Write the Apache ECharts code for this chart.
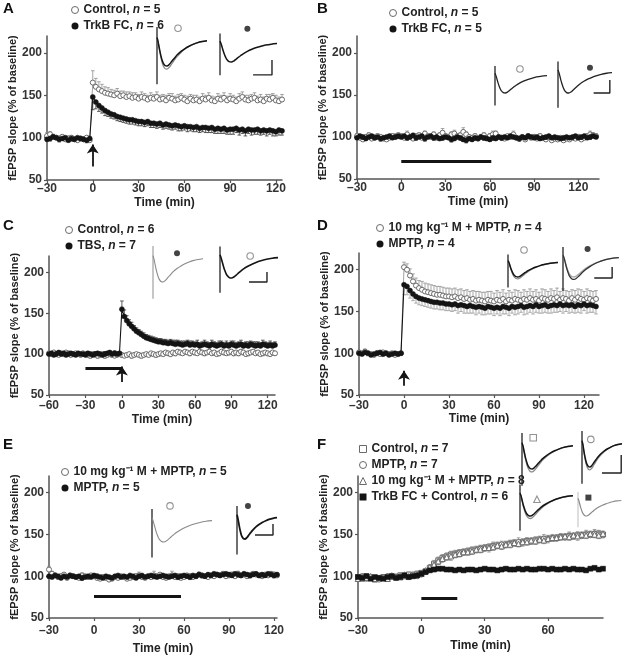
<!DOCTYPE html>
<html><head><meta charset="utf-8">
<script src="https://cdn.jsdelivr.net/npm/echarts@6/dist/echarts.min.js"></script>
<style>html,body{margin:0;padding:0;background:#fff}#c{width:630px;height:659px}</style>
</head><body><div id="c"></div>
<script>
// ---------- tick labels ----------
const yTicks = [50, 100, 150, 200];
const xTicks30 = [-30, 0, 30, 60, 90, 120];
const xTicksC = [-60, -30, 0, 30, 60, 90, 120];
const xTicksF = [-30, 0, 30, 60];
const sampleStep = 2; // minutes between plotted points
const startA = -30, startB = -30, startC = -60, startD = -30, startE = -30, startF = -30;

// ---------- Panel A ----------
const ctrlA = [102,104,101,100,99,101,98,99,100,98,97,99,98,100,97,
 165,
 160,157,155,153,152,151,150,152,149,150,
 148,149,147,148,146,148,147,145,147,146,
 148,145,146,144,147,146,144,145,147,145,
 143,146,144,145,143,146,145,147,144,143,
 146,145,147,144,146,145,143,146,148,145,
 144,146,147,144,145,143,146,145,147,144,
 143,145];
const errCtrlA = [4,3,3,2,3,2,2,3,2,3,2,2,3,2,2,
 14,
 10,9,8,7,7,6,6,6,6,5,
 6,5,6,5,5,6,5,5,6,5,
 6,5,5,6,5,6,5,6,5,5,
 6,5,6,5,5,6,5,6,5,5,
 6,5,6,5,6,5,5,6,6,5,
 6,5,6,5,6,5,5,6,5,6,
 5,6];
const trkA = [98,99,101,100,98,99,100,97,99,98,100,99,98,97,99,
 148,
 142,138,135,132,130,128,127,125,124,123,
 122,121,121,120,119,119,118,119,117,117,
 116,117,115,116,115,114,115,114,113,114,
 113,113,112,113,111,112,112,111,112,110,
 111,110,111,109,110,110,111,109,110,108,
 110,109,109,110,108,109,108,109,108,107,
 109,108];
const errTrkA = [2,3,2,2,3,2,2,2,3,2,2,2,2,3,2,
 15,
 8,7,6,6,5,5,5,5,5,5,
 5,5,5,5,5,5,5,5,5,5,
 5,5,5,5,5,5,5,6,5,5,
 6,5,5,6,5,5,6,5,6,5,
 6,5,6,5,6,6,5,6,5,6,
 5,6,5,6,5,5,6,5,6,5,
 6,5];
const stimA = [[0, 66], [0, 92]];

// ---------- Panel B ----------
const ctrlB = [101,99,97,100,102,98,99,101,100,98,
 97,99,101,100,102, 101,99,103,100,98, 101,102,99,104,101, 100,103,99,102,105,
 101,100,103,104,101, 102,106,103,100,99, 101,98,100,102,99, 101,103,104,100,99,
 98,101,100,103,99, 98,100,97,101,99, 100,98,101,99,97, 100,96,98,97,99,
 96,98,97,99,98, 100,97,99,101,103, 102,101];
const errCtrlB = [3,4,3,2,3,3,4,3,2,3,
 3,2,3,4,3, 3,2,4,3,3, 2,3,4,3,3, 2,3,4,3,5, 3,2,3,4,3, 3,5,3,2,3,
 3,2,3,3,2, 3,4,3,2,3, 3,2,3,4,2, 3,2,3,3,2, 3,2,3,2,3, 2,3,2,3,2,
 3,2,3,2,3, 3,2,3,3,4, 3,3];
const trkB = [99,101,100,98,100,101,99,100,98,99,
 100,101,99,100,101, 100,101,99,100,102, 99,100,101,98,100, 101,99,100,98,99,
 100,99,97,98,100, 99,97,96,98,97, 99,98,100,99,98, 97,99,98,100,99,
 100,99,101,100,99, 98,100,99,101,100, 99,100,98,99,100, 101,99,100,99,98,
 99,100,99,100,101, 99,100,101,99,100, 101,100];
const errTrkB = [2,2,3,2,2,3,2,2,3,2,
 2,3,2,2,3, 2,2,3,2,2, 3,2,2,3,2, 2,3,2,2,3, 2,2,3,2,2, 3,2,3,2,2,
 3,2,2,3,2, 2,3,2,2,3, 2,2,3,2,2, 3,2,2,3,2, 2,3,2,2,3, 2,2,3,2,2,
 3,2,2,3,2, 2,3,2,2,3, 2,2];
const barB = [[0, 71], [61, 71]];

// ---------- Panel C ----------
const ctrlC = [101,100,102,100,99,101,100,102,101,99,
 100,101,100,99,101, 100,99,98,100,99, 98,99,100,98,99, 100,99,98,99,100,
 99,98,99,100,98,99,100,99,98,99,
 100,99,101,100,99, 100,101,100,102,101, 100,102,101,103,102, 101,103,102,101,103,
 102,101,103,102,101, 102,103,101,102,100, 101,103,102,101,102, 103,101,102,101,103,
 102,100,101,102,103, 101,102,100,101,102, 101,100,102,101];
const errCtrlC = [2,2,3,2,2,3,2,2,3,2,
 2,3,2,2,3, 2,2,3,2,2, 3,2,2,3,2, 2,3,2,2,3,
 3,2,3,2,3,2,3,2,3,2,
 3,2,3,2,3, 2,3,2,3,2, 3,2,3,2,3, 2,3,2,3,2, 3,2,3,2,3, 2,3,2,3,2,
 3,2,3,2,3, 2,3,2,3,2, 3,2,3,2,3, 2,3,2,3,2, 3,2,3,2];
const tbsC = [100,101,99,100,102,100,101,99,100,101,
 100,99,101,100,100, 99,101,100,99,100, 101,100,99,100,101, 102,100,101,100,101,
 155,146,141,137,134,131,128,126,124,122,
 120,119,118,117,116,115,115,114,114,113,
 114,113,112,113,112,111,112,113,111,112,
 111,112,110,111,112,111,110,112,111,110,
 111,112,110,111,110,112,111,110,111,112,
 110,111,110,112,111,110,111,110,112,111,
 110,111,110,111];
const errTbsC = [2,2,2,3,2,2,2,3,2,2,
 2,3,2,2,2, 3,2,2,2,3, 2,2,2,3,2, 2,2,3,2,2,
 10,8,6,5,5,4,4,4,4,4,
 4,4,4,4,4, 4,4,4,4,4, 4,4,5,4,4, 5,4,4,5,4, 4,5,4,4,5, 4,4,5,4,4,
 5,4,4,5,4, 4,5,4,4,5, 4,4,5,4,4, 5,4,4,5,4, 4,5,4,4];
const barC = [[-30, 83], [0, 83]];
const stimC = [[0, 66], [0, 85]];

// ---------- Panel D ----------
const ctrlD = [101,100,102,100,99,98,100,99,101,100,99,100,98,99,100,
 203,200,193,186,181,178,176,174,173,172,
 171,170,170,169,168,168,167,168,166,167,
 165,166,164,165,163,164,163,162,164,163,
 162,164,163,165,162,164,163,165,164,163,
 165,164,166,164,165,163,166,165,164,166,
 165,167,164,166,165,163,166,164,167,165,
 164,166,165,163,165];
const errCtrlD = [2,2,3,2,2,2,3,2,2,2,3,2,2,2,2,
 6,7,8,9,9,9,10,10,10,10,
 10,10,10,10,10, 10,10,10,10,10, 10,10,10,10,11, 10,10,11,10,11,
 10,11,10,11,10, 11,10,11,11,10, 11,10,11,10,11, 10,11,11,10,11,
 10,11,10,11,10, 11,10,11,10,11, 10,11,10,11,10];
const mptpD = [100,99,101,100,98,99,100,101,99,100,98,99,100,99,100,
 182,180,175,171,168,166,165,164,163,162,
 161,161,160,160,159,159,158,159,157,158,
 157,156,157,156,155,156,155,154,156,155,
 154,155,154,156,155,154,156,155,156,157,
 155,156,157,156,158,156,157,158,156,157,
 158,157,159,157,158,157,158,156,158,157,
 159,157,158,157,156];
const errMptpD = [2,2,2,3,2,2,2,2,3,2,2,2,2,3,2,
 12,10,9,8,8,8,8,8,8,8,
 8,8,8,8,8, 8,8,8,9,8, 9,8,9,8,9, 8,9,8,9,8,
 9,8,9,9,8, 9,8,9,9,8, 9,9,8,9,9, 8,9,9,8,9,
 9,8,9,9,8, 9,9,8,9,9, 8,9,9,8,9];
const stimD = [[0, 61], [0, 79]];

// ---------- Panel E ----------
const ctrlE = [108,103,101,99,100,102,98,101,100,99,
 98,101,100,99,101, 100,98,97,99,98, 96,97,99,98,100, 99,97,98,99,100,
 101,99,98,100,99, 101,100,102,99,98, 100,101,99,100,98, 99,101,100,99,100,
 102,101,100,99,101, 100,102,101,103,100, 101,102,100,103,101, 102,100,101,103,102,
 101,100,102,101,103, 102,101];
const errCtrlE = [4,3,3,2,3,2,3,2,3,3,
 2,3,2,3,2, 3,5,4,3,3, 5,4,3,3,2, 3,4,3,2,3, 4,3,3,2,3, 5,3,2,3,3,
 2,5,3,3,5, 3,2,3,3,2, 3,2,3,3,2, 3,2,3,2,3, 2,3,2,3,2, 3,2,3,2,3,
 2,3,2,3,2, 3,2];
const mptpE = [100,99,101,100,98,100,99,101,100,99,
 100,98,99,100,99, 101,100,99,98,100, 99,98,100,101,99, 100,99,101,100,98,
 100,101,99,100,101, 100,99,100,101,100, 99,100,101,99,100, 101,100,99,101,100,
 102,101,100,102,101, 103,102,101,102,103, 102,101,103,102,101, 103,102,101,102,103,
 101,102,101,103,102, 101,102];
const errMptpE = [2,2,2,3,2,2,2,3,2,2,
 2,3,2,2,2, 3,2,2,2,3, 2,2,2,3,2, 2,2,3,2,2, 2,3,2,2,2, 3,2,2,2,3,
 2,2,2,3,2, 2,2,3,2,2, 2,3,2,2,2, 3,2,2,2,3, 2,2,2,3,2, 2,2,3,2,2,
 2,3,2,2,2, 3,2];
const barE = [[0, 76], [58, 76]];

// ---------- Panel F ----------
const ctrlF = [99,97,100,98,96,97,99,98,100,99,101,100,102,101,103,
 104,106,110,115,119,122,124,126,127,128,
 129,130,131,132,133,134,135,136,137,137,
 138,139,140,140,141,142,142,143,144,144,
 145,145,146,147,147,148,148,149,149,150,
 150,150,151,150];
const errCtrlF = [3,2,3,2,3,2,3,2,3,2,3,2,3,2,3,
 3,3,4,4,4,4,4,4,4,4, 4,4,4,4,4, 4,4,4,4,4, 4,4,4,4,4, 4,4,4,4,4,
 4,4,4,4,4, 4,4,4,4,5, 4,5,4,4];
const mptpF = [98,100,97,99,98,96,98,100,99,98,100,101,99,102,100,
 102,105,108,112,117,120,123,125,126,128,
 128,129,131,131,133,133,134,136,136,138,
 137,139,139,141,140,142,141,143,143,145,
 144,146,145,147,146,148,147,149,148,150,
 149,151,150,149];
const errMptpF = [2,3,2,3,2,3,2,3,2,3,2,3,2,3,2,
 3,3,3,4,4,4,4,4,4,4, 4,4,4,4,4, 4,4,5,4,4, 4,4,4,5,4, 4,4,4,4,5,
 4,4,4,4,4, 5,4,4,4,4, 4,5,4,4];
const mmF = [97,99,98,100,97,98,99,97,101,100,99,102,100,101,102,
 103,107,111,114,118,121,123,124,126,127,
 129,129,130,132,132,134,134,135,137,136,
 138,138,140,139,141,141,143,142,144,143,
 145,146,146,147,148,147,149,148,150,149,
 151,150,149,151];
const errMmF = [3,3,2,3,3,2,3,3,2,3,3,2,3,3,2,
 3,4,4,4,4,4,4,5,4,4, 4,4,4,4,4, 4,5,4,4,4, 4,4,4,4,5, 4,4,4,4,4,
 5,4,4,4,4, 4,4,5,4,4, 4,4,4,5];
const trkF = [99,98,100,97,99,98,97,99,100,98,99,101,99,100,101,
 103,105,107,108,109,109,108,108,107,108,
 107,108,108,107,108,109,108,108,107,108,
 109,108,108,109,108,109,108,108,109,109,
 108,109,108,108,109,108,109,108,108,107,
 109,110,108,109];
const errTrkF = [2,2,2,2,2,2,2,2,2,2,2,2,2,2,2,
 2,2,2,2,2,2,2,2,2,2, 2,2,2,2,2, 2,2,2,2,2, 2,2,2,2,2, 2,2,2,2,2,
 2,2,2,2,2, 2,2,2,2,2, 2,2,2,2];
const barF = [[0, 74], [17, 74]];

// ---------- inset fEPSP traces (normalised) ----------
const waveT    = [0, 1, 2, 3, 4, 5, 6, 8, 10, 12, 14, 16, 18, 20, 24, 28, 32, 36, 40, 45, 50];
const waveMain = [0.1, -0.05, -0.25, -0.45, -0.62, -0.76, -0.87, -0.98, -1.0, -0.95, -0.86, -0.76, -0.67, -0.58, -0.44, -0.33, -0.24, -0.17, -0.11, -0.06, -0.03];
const waveDeep = [0.1, -0.06, -0.28, -0.5, -0.69, -0.85, -0.97, -1.1, -1.12, -1.06, -0.96, -0.85, -0.74, -0.64, -0.48, -0.35, -0.25, -0.17, -0.11, -0.06, -0.03];
const artifact = [[0, 0.5], [0, -1.7]];
const scaleA = [[29, -1.68], [45.6, -1.68], [45.6, -0.89]];
const scaleB = [[33, -1.0], [48, -1.0], [48, -0.38]];
const scaleC = [[25, -1.19], [40.5, -1.19], [40.5, -0.71]];
const scaleD = [[28, -1.05], [44, -1.05], [44, -0.5]];
const scaleE = [[22.5, -0.82], [45, -0.82], [45, -0.32]];
const scaleF = [[25, -1.25], [49, -1.25], [49, -0.5]];

// ---------- build ----------
const FONT = '"Liberation Sans", Arial, Helvetica, sans-serif';
const GREY = '#8a8a8a', LGREY = '#a8a8a8', BLACK = '#141414', AXIS = '#555';
const OPEN_EDGE = '#6a6a6a';
const WAVES = {main: waveMain, deep: waveDeep};

const panels = [
 {letter: 'A', lpos: [3, 1], grid: {left: 47, top: 36, width: 235, height: 144}, xMin: -30, xMax: 124, xTicks: xTicks30,
  xLabelMargin: 3, xNameGap: 17, legend: {left: 71, top: 3},
  series: [
   {name: 'A1', label: 'Control, {i|n} = 5', vals: ctrlA, errs: errCtrlA, start: startA, sym: 'circle', open: true, dir: 1},
   {name: 'A2', label: 'TrkB FC, {i|n} = 6', vals: trkA, errs: errTrkA, start: startA, sym: 'circle', open: false, dir: -1}],
  marks: [{pts: stimA, arrow: true}],
  insets: [
   {x: 157, base: 40, d: 26, L: 50, traces: [['deep', GREY, 1.3], ['main', BLACK, 1.5]], mk: {sym: 'circle', open: true, at: [21, 0.45]}},
   {x: 220, base: 43, d: 19, L: 57, traces: [['main', BLACK, 1.5]], mk: {sym: 'circle', open: false, at: [24, 0.75]}, bar: scaleA}]},
 {letter: 'B', lpos: [317, 1], grid: {left: 357, top: 36, width: 242, height: 143}, xMin: -30, xMax: 134, xTicks: xTicks30,
  xLabelMargin: 3, xNameGap: 17, legend: {left: 389, top: 6},
  series: [
   {name: 'B1', label: 'Control, {i|n} = 5', vals: ctrlB, errs: errCtrlB, start: startB, sym: 'circle', open: true, dir: 1},
   {name: 'B2', label: 'TrkB FC, {i|n} = 5', vals: trkB, errs: errTrkB, start: startB, sym: 'circle', open: false, dir: -1}],
  marks: [{pts: barB}],
  insets: [
   {x: 495, base: 75, d: 18, L: 52, traces: [['main', '#222', 1.3]], mk: {sym: 'circle', open: true, at: [24, 0.33]}},
   {x: 558, base: 72, d: 21, L: 54, traces: [['main', '#222', 1.3]], mk: {sym: 'circle', open: false, at: [29.6, 0.2]}, bar: scaleB}]},
 {letter: 'C', lpos: [3, 218], grid: {left: 49, top: 256, width: 226, height: 139}, xMin: -60, xMax: 126, xTicks: xTicksC,
  xLabelMargin: 5, xNameGap: 19, legend: {left: 65, top: 223},
  series: [
   {name: 'C1', label: 'Control, {i|n} = 6', vals: ctrlC, errs: errCtrlC, start: startC, sym: 'circle', open: true, dir: -1},
   {name: 'C2', label: 'TBS, {i|n} = 7', vals: tbsC, errs: errTbsC, start: startC, sym: 'circle', open: false, dir: 1}],
  marks: [{pts: barC}, {pts: stimC, arrow: true}],
  insets: [
   {x: 153, base: 258, d: 24, L: 50, art: LGREY, traces: [['main', GREY, 1.1]], mk: {sym: 'circle', open: false, at: [24, 0.2]}},
   {x: 220, base: 257, d: 21, L: 58, traces: [['main', BLACK, 1.6]], mk: {sym: 'circle', open: true, at: [26, 0.05]}, bar: scaleC}]},
 {letter: 'D', lpos: [317, 218], grid: {left: 359, top: 253, width: 240, height: 142}, xMin: -30, xMax: 130, xTicks: xTicks30,
  xLabelMargin: 5, xNameGap: 17, legend: {left: 376, top: 221},
  series: [
   {name: 'D1', label: '10 mg kg⁻¹ M + MPTP, {i|n} = 4', vals: ctrlD, errs: errCtrlD, start: startD, sym: 'circle', open: true, dir: 1},
   {name: 'D2', label: 'MPTP, {i|n} = 4', vals: mptpD, errs: errMptpD, start: startD, sym: 'circle', open: false, dir: -1, errCol: '#999'}],
  marks: [{pts: stimD, arrow: true}],
  insets: [
   {x: 508, base: 262, d: 15, L: 50, traces: [['deep', GREY, 1.3], ['main', BLACK, 1.5]], mk: {sym: 'circle', open: true, at: [16, 0.8]}},
   {x: 563, base: 257, d: 20, L: 57, traces: [['main', LGREY, 1.3], ['deep', '#333', 1.3]], mk: {sym: 'circle', open: false, at: [22, 0.4]}, bar: scaleD}]},
 {letter: 'E', lpos: [3, 437], grid: {left: 49, top: 476, width: 228, height: 142}, xMin: -30, xMax: 122, xTicks: xTicks30,
  xLabelMargin: 7, xNameGap: 25, legend: {left: 61, top: 465},
  series: [
   {name: 'E1', label: '10 mg kg⁻¹ M + MPTP, {i|n} = 5', vals: ctrlE, errs: errCtrlE, start: startE, sym: 'circle', open: true, dir: 1},
   {name: 'E2', label: 'MPTP, {i|n} = 5', vals: mptpE, errs: errMptpE, start: startE, sym: 'circle', open: false, dir: -1}],
  marks: [{pts: barE}],
  insets: [
   {x: 152, base: 520, d: 22, L: 60, traces: [['main', GREY, 1.1]], mk: {sym: 'circle', open: true, at: [15, 0.64]}},
   {x: 237, base: 517, d: 22, L: 40, traces: [['main', BLACK, 1.8]], mk: {sym: 'circle', open: false, at: [13.7, 0.5]}, bar: scaleE}]},
 {letter: 'F', lpos: [317, 437], grid: {left: 358, top: 476, width: 245, height: 142}, xMin: -30, xMax: 86, xTicks: xTicksF,
  xLabelMargin: 7, xNameGap: 22, legend: {left: 359, top: 442},
  series: [
   {name: 'F1', label: 'Control, {i|n} = 7', vals: ctrlF, errs: errCtrlF, start: startF, sym: 'rect', open: true, dir: 1},
   {name: 'F2', label: 'MPTP, {i|n} = 7', vals: mptpF, errs: errMptpF, start: startF, sym: 'circle', open: true, dir: 1},
   {name: 'F3', label: '10 mg kg⁻¹ M + MPTP, {i|n} = 8', vals: mmF, errs: errMmF, start: startF, sym: 'triangle', open: true, dir: -1},
   {name: 'F4', label: 'TrkB FC + Control, {i|n} = 6', vals: trkF, errs: errTrkF, start: startF, sym: 'rect', open: false, dir: 1}],
  marks: [{pts: barF}],
  insets: [
   {x: 522, base: 445, d: 24, L: 51, traces: [['deep', GREY, 1.3], ['main', BLACK, 1.5]], mk: {sym: 'rect', open: true, at: [11, 0.3]}},
   {x: 582, base: 443, d: 24, L: 46, traces: [['deep', GREY, 1.3], ['main', BLACK, 1.5]], mk: {sym: 'circle', open: true, at: [11, 0.15]}, bar: scaleF},
   {x: 520, base: 495, d: 21, L: 53, traces: [['deep', GREY, 1.3], ['main', BLACK, 1.5]], mk: {sym: 'triangle', open: true, at: [16, -0.2]}},
   {x: 578, base: 500, d: 16, L: 50, art: '#ccc', traces: [['main', GREY, 1.2]], mk: {sym: 'rect', open: false, at: [12, 0.15]}}]}
];

const grids = [], xAxes = [], yAxes = [], series = [], legends = [], titles = [];
const dash = v => (v < 0 ? '\u2013' + Math.abs(v) : String(v));
const txt = {fontFamily: FONT, fontWeight: 'bold', color: '#222'};

panels.forEach(p => {
  const gi = grids.length;
  grids.push(Object.assign({containLabel: false}, p.grid));
  titles.push({text: p.letter, left: p.lpos[0], top: p.lpos[1], padding: 0,
    textStyle: {fontFamily: FONT, fontWeight: 'bold', fontSize: 15, color: '#111'}});
  xAxes.push({type: 'value', gridIndex: gi, min: p.xMin, max: p.xMax,
    name: 'Time (min)', nameLocation: 'middle', nameGap: p.xNameGap,
    nameTextStyle: Object.assign({fontSize: 12}, txt),
    axisLine: {onZero: false, lineStyle: {color: AXIS, width: 1.5}},
    axisTick: {customValues: p.xTicks, length: 3, inside: false, lineStyle: {color: AXIS, width: 1.2}},
    axisLabel: {customValues: p.xTicks, formatter: dash, margin: p.xLabelMargin, fontSize: 12, fontFamily: FONT, fontWeight: 'bold', color: '#333'},
    splitLine: {show: false}});
  yAxes.push({type: 'value', gridIndex: gi, min: 50, max: 220,
    name: 'fEPSP slope (% of baseline)', nameLocation: 'middle', nameGap: 29,
    nameTextStyle: Object.assign({fontSize: 11}, txt),
    axisLine: {onZero: false, lineStyle: {color: AXIS, width: 1.5}},
    axisTick: {customValues: yTicks, length: 3, lineStyle: {color: AXIS, width: 1.2}},
    axisLabel: {customValues: yTicks, margin: 5, fontSize: 12, fontFamily: FONT, fontWeight: 'bold', color: '#333'},
    splitLine: {show: false}});

  const labels = {};
  p.series.forEach((s, k) => {
    labels[s.name] = s.label;
    const pts = s.vals.map((v, i) => [s.start + i * sampleStep, v]);
    const ebs = s.vals.map((v, i) => [s.start + i * sampleStep, v, s.errs[i], s.dir]);
    const ecol = s.errCol || (s.open ? '#8f8f8f' : '#333');
    series.push({type: 'custom', xAxisIndex: gi, yAxisIndex: gi, silent: true, z: 2 + k * 2,
      data: ebs, encode: {x: 0, y: 1},
      renderItem: (params, api) => {
        const x = api.value(0), y = api.value(1), e = api.value(2), d = api.value(3);
        const a = api.coord([x, y]), b = api.coord([x, y + d * e]);
        const st = {stroke: ecol, lineWidth: 0.8};
        return {type: 'group', children: [
          {type: 'line', shape: {x1: a[0], y1: a[1], x2: b[0], y2: b[1]}, style: st},
          {type: 'line', shape: {x1: b[0] - 1.8, y1: b[1], x2: b[0] + 1.8, y2: b[1]}, style: st}]};
      }});
    const ser = {type: 'line', name: s.name, xAxisIndex: gi, yAxisIndex: gi, z: 3 + k * 2,
      data: pts, symbol: s.sym, symbolSize: s.sym === 'triangle' ? 5.5 : 5, showSymbol: true, showAllSymbol: true,
      lineStyle: {color: s.open ? '#8a8a8a' : BLACK, width: s.open ? 0.8 : 1.1},
      itemStyle: s.open ? {color: '#fff', borderColor: OPEN_EDGE, borderWidth: 1} : {color: BLACK, borderColor: BLACK, borderWidth: 0.5},
      emphasis: {disabled: true}, silent: true};
    if (k === 0) {
      ser.markLine = {silent: true, animation: false, label: {show: false}, emphasis: {disabled: true},
        data: p.marks.map(m => [
          {coord: m.pts[0], symbol: 'none', lineStyle: {color: BLACK, width: m.arrow ? 1.8 : 3.2, type: 'solid'}},
          {coord: m.pts[1], symbol: m.arrow ? 'arrow' : 'none', symbolSize: m.arrow ? 9 : 0}])};
    }
    series.push(ser);
  });
  legends.push({left: p.legend.left, top: p.legend.top, orient: 'vertical', itemGap: 2, itemWidth: 7, itemHeight: 7,
    selectedMode: false, padding: 0,
    data: p.series.map(s => ({name: s.name, icon: s.sym,
      itemStyle: s.open ? {color: '#fff', borderColor: OPEN_EDGE, borderWidth: 1} : {color: BLACK, borderWidth: 0}})),
    formatter: n => labels[n],
    textStyle: {fontFamily: FONT, fontWeight: 'bold', fontSize: 12, color: '#222', lineHeight: 14,
      rich: {i: {fontFamily: FONT, fontWeight: 'bold', fontStyle: 'italic', fontSize: 12, color: '#222'}}}});

  // insets with representative fEPSP traces
  p.insets.forEach(ins => {
    const ii = grids.length;
    grids.push({left: ins.x, top: ins.base - ins.d, width: 1.2 * ins.L, height: 3 * ins.d});
    xAxes.push({type: 'value', gridIndex: ii, min: 0, max: 60, show: false});
    yAxes.push({type: 'value', gridIndex: ii, min: -2, max: 1, show: false});
    const base = {type: 'line', xAxisIndex: ii, yAxisIndex: ii, showSymbol: false, silent: true, z: 5, emphasis: {disabled: true}};
    series.push(Object.assign({}, base, {data: artifact, lineStyle: {color: ins.art || '#222', width: 1.3}}));
    ins.traces.forEach(tr => {
      const w = WAVES[tr[0]];
      series.push(Object.assign({}, base, {data: waveT.map((t, i) => [t, w[i]]), smooth: 0.3,
        lineStyle: {color: tr[1], width: tr[2]}}));
    });
    if (ins.bar) series.push(Object.assign({}, base, {data: ins.bar, lineStyle: {color: '#222', width: 1.4}}));
    series.push({type: 'scatter', xAxisIndex: ii, yAxisIndex: ii, silent: true, z: 6, data: [ins.mk.at],
      symbol: ins.mk.sym, symbolSize: ins.mk.open ? 6.5 : 6,
      itemStyle: ins.mk.open ? {color: '#fff', borderColor: '#777', borderWidth: 1.1} : {color: BLACK}});
  });
});

const chart = echarts.init(document.getElementById('c'), null, {renderer: 'canvas'});
chart.setOption({animation: false, backgroundColor: '#fff', title: titles, legend: legends,
  grid: grids, xAxis: xAxes, yAxis: yAxes, series: series, tooltip: {show: false}});
</script></body></html>
